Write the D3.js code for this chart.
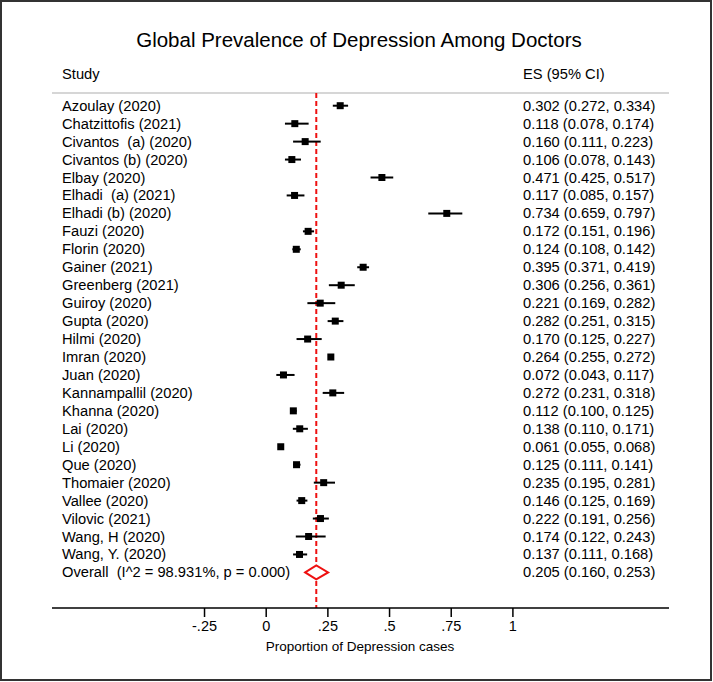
<!DOCTYPE html>
<html><head><meta charset="utf-8">
<script src="https://cdn.jsdelivr.net/npm/d3@7"></script>
<style>
html,body{margin:0;padding:0;background:#fff;}
svg{display:block;}
text{font-family:"Liberation Sans",Arial,Helvetica,sans-serif;fill:#000;white-space:pre;}
</style></head>
<body>
<svg id="chart" width="713" height="682"></svg>
<script>
const studies = ["Azoulay (2020)","Chatzittofis (2021)","Civantos  (a) (2020)","Civantos (b) (2020)","Elbay (2020)","Elhadi  (a) (2021)","Elhadi (b) (2020)","Fauzi (2020)","Florin (2020)","Gainer (2021)","Greenberg (2021)","Guiroy (2020)","Gupta (2020)","Hilmi (2020)","Imran (2020)","Juan (2020)","Kannampallil (2020)","Khanna (2020)","Lai (2020)","Li (2020)","Que (2020)","Thomaier (2020)","Vallee (2020)","Vilovic (2021)","Wang, H (2020)","Wang, Y. (2020)"];
const es    = [0.302,0.118,0.160,0.106,0.471,0.117,0.734,0.172,0.124,0.395,0.306,0.221,0.282,0.170,0.264,0.072,0.272,0.112,0.138,0.061,0.125,0.235,0.146,0.222,0.174,0.137];
const lower = [0.272,0.078,0.111,0.078,0.425,0.085,0.659,0.151,0.108,0.371,0.256,0.169,0.251,0.125,0.255,0.043,0.231,0.100,0.110,0.055,0.111,0.195,0.125,0.191,0.122,0.111];
const upper = [0.334,0.174,0.223,0.143,0.517,0.157,0.797,0.196,0.142,0.419,0.361,0.282,0.315,0.227,0.272,0.117,0.318,0.125,0.171,0.068,0.141,0.281,0.169,0.256,0.243,0.168];
const overallLabel = "Overall  (I^2 = 98.931%, p = 0.000)";
const overall = {es:0.205, lo:0.160, hi:0.253};
const tickValues = [-0.25, 0, 0.25, 0.5, 0.75, 1];
const tickLabels = ["-.25","0",".25",".5",".75","1"];
const title = "Global Prevalence of Depression Among Doctors";
const xTitle = "Proportion of Depression cases";

const svg = d3.select("#chart");
const fmt = d3.format(".3f");

// border
svg.append("rect").attr("x",1).attr("y",1).attr("width",710).attr("height",679)
  .attr("fill","#fff").attr("stroke","#333").attr("stroke-width",2);

const x = d3.scaleLinear().domain([0,1]).range([265.7,512.4]);
const rows = studies.map((s,i)=>i).concat([studies.length]);
const y = d3.scaleLinear().domain([0,26]).range([105.7,572.4]);

// title
svg.append("text").attr("x",359).attr("y",47).attr("text-anchor","middle")
  .style("font-size","20.5px").text(title);

svg.append("text").attr("x",62).attr("y",79).style("font-size","14.7px").text("Study");
svg.append("text").attr("x",523).attr("y",79).style("font-size","14.7px").text("ES (95% CI)");

// separator
svg.append("line").attr("x1",52).attr("x2",669).attr("y1",93).attr("y2",93)
  .attr("stroke","#c8c8c8").attr("stroke-width",1.5);

// red dashed overall line
svg.append("line").attr("x1",x(overall.es)).attr("x2",x(overall.es))
  .attr("y1",93).attr("y2",608)
  .attr("stroke","#ee1111").attr("stroke-width",2).attr("stroke-dasharray","5,3");

// CI lines
const g = svg.append("g");
g.selectAll("line.ci").data(studies).join("line").attr("class","ci")
  .attr("x1",(d,i)=>x(lower[i])).attr("x2",(d,i)=>x(upper[i]))
  .attr("y1",(d,i)=>y(i)).attr("y2",(d,i)=>y(i))
  .attr("stroke","#000").attr("stroke-width",2);
const sq = 7;
g.selectAll("rect.pt").data(studies).join("rect").attr("class","pt")
  .attr("x",(d,i)=>x(es[i])-sq/2).attr("y",(d,i)=>y(i)-sq/2)
  .attr("width",sq).attr("height",sq).attr("fill","#000");

// diamond
const oy = y(26);
svg.append("path")
  .attr("d",`M${x(overall.lo)},${oy}L${x(overall.es)},${oy-7}L${x(overall.hi)},${oy}L${x(overall.es)},${oy+7}Z`)
  .attr("fill","#fff").attr("stroke","#ee1111").attr("stroke-width",2);

// left labels
svg.append("g").selectAll("text").data(studies.concat([overallLabel])).join("text")
  .attr("x",62).attr("y",(d,i)=>y(i)+5).style("font-size","14.7px").text(d=>d);

// right labels
const rightTexts = studies.map((s,i)=>`${fmt(es[i])} (${fmt(lower[i])}, ${fmt(upper[i])})`)
  .concat([`${fmt(overall.es)} (${fmt(overall.lo)}, ${fmt(overall.hi)})`]);
svg.append("g").selectAll("text").data(rightTexts).join("text")
  .attr("x",523).attr("y",(d,i)=>y(i)+5).style("font-size","14.7px").text(d=>d);

// axis
const axis = d3.axisBottom(x).tickValues(tickValues).tickFormat((d,i)=>tickLabels[i]).tickSize(9).tickSizeOuter(0);
const ag = svg.append("g").attr("transform","translate(0,608)").call(axis);
ag.select(".domain").remove();
ag.append("line").attr("x1",52).attr("x2",669).attr("y1",0).attr("y2",0).attr("stroke","#000").attr("stroke-width",1.5);
ag.selectAll(".tick line").attr("stroke","#000").attr("stroke-width",1.5);
ag.selectAll(".tick text").attr("y",13).attr("fill","#000")
  .style("font-family","'Liberation Sans',Arial,sans-serif").style("font-size","14.5px");
svg.append("text").attr("x",360).attr("y",651).attr("text-anchor","middle")
  .style("font-size","13.5px").text(xTitle);
</script>
</body></html>
